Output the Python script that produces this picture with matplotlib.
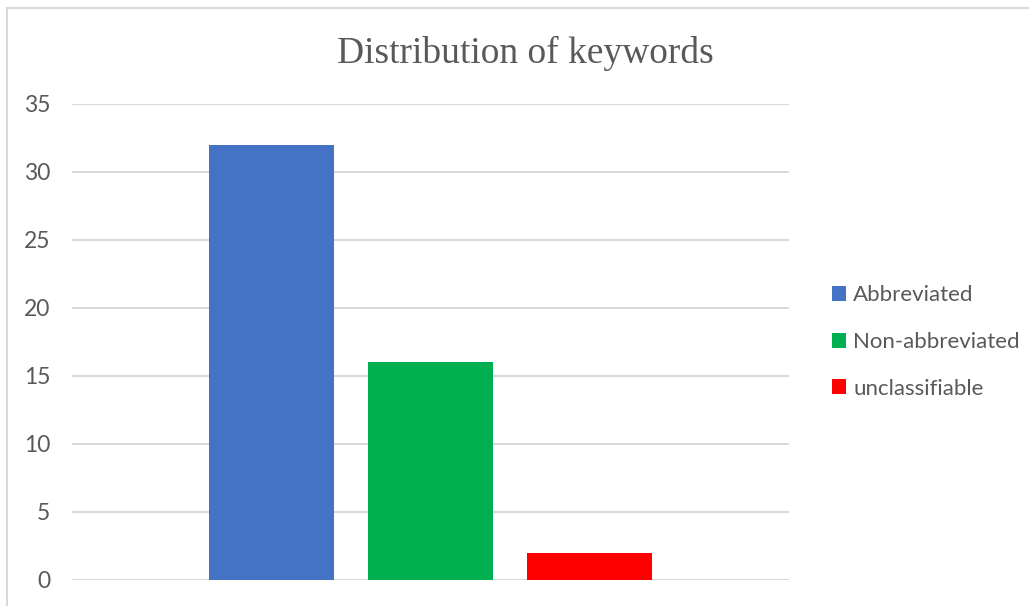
import matplotlib
matplotlib.use("Agg")
import matplotlib.pyplot as plt
from matplotlib.lines import Line2D
from matplotlib.patches import Patch

series = ["Abbreviated", "Non-abbreviated", "unclassifiable"]
values = [32, 16, 2]
colors = ["#4472C4", "#00B050", "#FF0000"]
yticks = [0, 5, 10, 15, 20, 25, 30, 35]
title = "Distribution of keywords"

W, H = 1029, 606
fig = plt.figure(figsize=(W / 100, H / 100), dpi=100)

# outer frame (top and left visible)
fig.add_artist(Line2D([7 / W, 7 / W], [0, 1 - 8 / H], transform=fig.transFigure,
                      color="#D9D9D9", lw=1.5))
fig.add_artist(Line2D([7 / W, 1], [1 - 8 / H, 1 - 8 / H], transform=fig.transFigure,
                      color="#D9D9D9", lw=1.5))

left, right = 72 / W, 789 / W
bottom, top = 1 - 580 / H, 1 - 104 / H
ax = fig.add_axes([left, bottom, right - left, top - bottom])

bar_w = 125 / 717
offset = 159 / 717
n = len(values)
for i, (lab, v, c) in enumerate(zip(series, values, colors)):
    x = (i - (n - 1) / 2) * offset
    ax.bar(x, v, width=bar_w, color=c, label=lab, zorder=3)

ax.set_xlim(-0.5, 0.5)
ax.set_ylim(0, 35)
ax.set_yticks(yticks)
ax.set_yticklabels([str(t) for t in yticks], fontfamily="Lato", fontsize=16.5, color="#595959")
ax.set_xticks([])
ax.tick_params(axis="y", length=0, pad=15.5)
for s in ax.spines.values():
    s.set_visible(False)
ax.grid(axis="y", color="#D9D9D9", lw=1.5, zorder=0)
ax.set_axisbelow(True)

fig.text((338 + 712) / 2 / W, 1 - 53 / H, title, ha="center", va="center",
         fontfamily="Liberation Serif", fontsize=27, color="#595959")

handles = [Patch(facecolor=c, edgecolor="none") for c in colors]
leg = fig.legend(handles, series, loc="center left",
                 bbox_to_anchor=(812 / W, 1 - 342 / H), frameon=False,
                 prop={"family": "Lato", "size": 16}, labelcolor="#595959",
                 handlelength=0.65, handleheight=0.65, handletextpad=0.3,
                 labelspacing=1.2)

fig.savefig("out.png", dpi=100, facecolor="white")
